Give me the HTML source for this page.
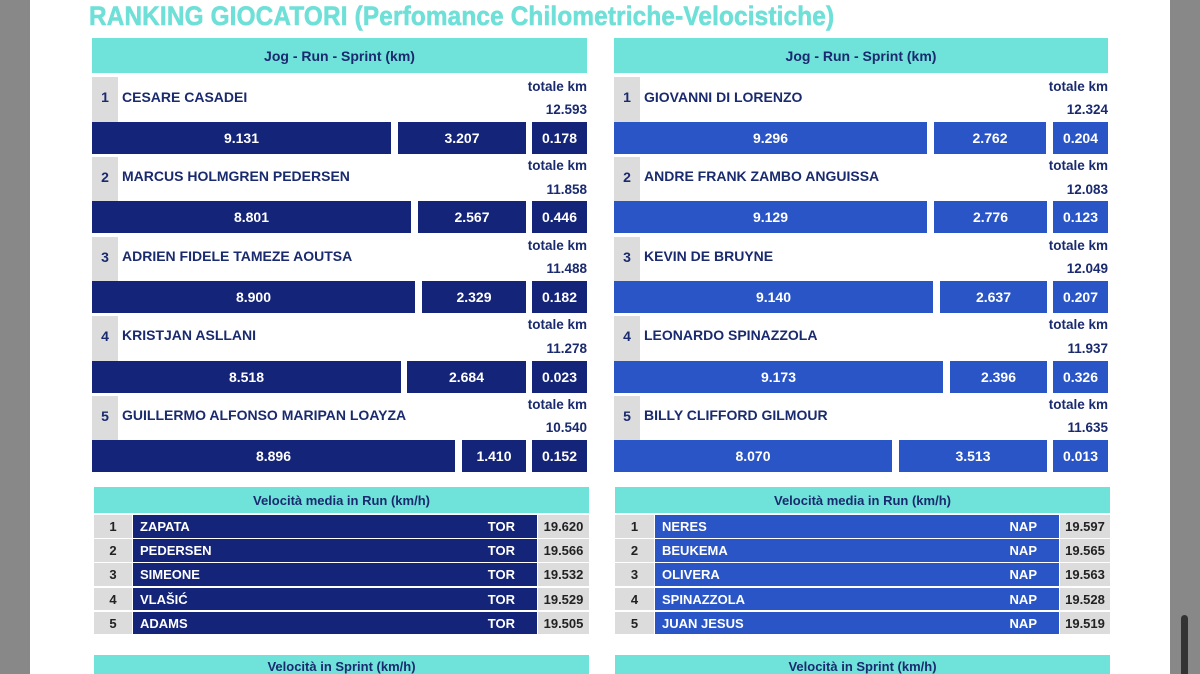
<!DOCTYPE html>
<html><head><meta charset="utf-8"><style>
*{margin:0;padding:0;box-sizing:border-box}
html{width:1200px;height:674px;overflow:hidden}
body{width:1200px;height:674px;background:#888;position:relative;overflow:hidden;font-family:"Liberation Sans",sans-serif;font-weight:bold}
.pg{position:absolute;left:30px;top:0;width:1140px;height:674px;background:#fff}
.a{position:absolute}
.t{left:89px;top:1px;font-size:27px;color:#6fe0d8;white-space:nowrap;transform:scaleX(0.9);transform-origin:left top;letter-spacing:0.2px;-webkit-text-stroke:0.6px #6fe0d8}
.h{background:#6fe2da;color:#1a2a6e;font-size:14px;text-align:center;display:flex;align-items:center;justify-content:center}
.n{background:#dcdcdc;color:#1a2a6e;font-size:14px;text-align:center;padding-top:12px}
.nm{color:#1a2a6e;font-size:14px;white-space:nowrap}
.tk{color:#1a2a6e;font-size:13.5px;text-align:right;white-space:nowrap}
.b{color:#fff;font-size:14px;display:flex;align-items:center;justify-content:center}
.d{background:#142478}.l{background:#2a55c6}
.sn{background:#dcdcdc;color:#222;font-size:13px;display:flex;align-items:center;justify-content:center}
.sb{color:#fff;font-size:13px;display:flex;align-items:center;justify-content:space-between;padding:0 22px 0 7px}
.sv{background:#dcdcdc;color:#222;font-size:13px;display:flex;align-items:center;justify-content:center}
.sh{font-size:13px}
</style></head><body>
<div class="pg"></div>
<div class="a t">RANKING GIOCATORI (Perfomance Chilometriche-Velocistiche)</div>

<div class="a h" style="left:92px;top:38px;width:495px;height:35px">Jog - Run - Sprint (km)</div>
<div class="a h" style="left:614px;top:38px;width:494px;height:35px">Jog - Run - Sprint (km)</div>

<div class="a n" style="left:92px;top:77px;width:26px;height:45px">1</div>
<div class="a nm" style="left:122px;top:89px">CESARE CASADEI</div>
<div class="a tk" style="left:480px;top:79px;width:107px">totale km</div>
<div class="a tk" style="left:480px;top:102px;width:107px">12.593</div>
<div class="a b d" style="left:92px;top:122px;width:299px;height:32px">9.131</div>
<div class="a b d" style="left:398px;top:122px;width:128px;height:32px">3.207</div>
<div class="a b d" style="left:532px;top:122px;width:55px;height:32px">0.178</div>

<div class="a n" style="left:92px;top:157px;width:26px;height:44px">2</div>
<div class="a nm" style="left:122px;top:168px">MARCUS HOLMGREN PEDERSEN</div>
<div class="a tk" style="left:480px;top:158px;width:107px">totale km</div>
<div class="a tk" style="left:480px;top:182px;width:107px">11.858</div>
<div class="a b d" style="left:92px;top:201px;width:319px;height:32px">8.801</div>
<div class="a b d" style="left:418px;top:201px;width:108px;height:32px">2.567</div>
<div class="a b d" style="left:532px;top:201px;width:55px;height:32px">0.446</div>

<div class="a n" style="left:92px;top:237px;width:26px;height:44px">3</div>
<div class="a nm" style="left:122px;top:248px">ADRIEN FIDELE TAMEZE AOUTSA</div>
<div class="a tk" style="left:480px;top:238px;width:107px">totale km</div>
<div class="a tk" style="left:480px;top:261px;width:107px">11.488</div>
<div class="a b d" style="left:92px;top:281px;width:323px;height:32px">8.900</div>
<div class="a b d" style="left:422px;top:281px;width:104px;height:32px">2.329</div>
<div class="a b d" style="left:532px;top:281px;width:55px;height:32px">0.182</div>

<div class="a n" style="left:92px;top:316px;width:26px;height:45px">4</div>
<div class="a nm" style="left:122px;top:327px">KRISTJAN ASLLANI</div>
<div class="a tk" style="left:480px;top:317px;width:107px">totale km</div>
<div class="a tk" style="left:480px;top:341px;width:107px">11.278</div>
<div class="a b d" style="left:92px;top:361px;width:309px;height:32px">8.518</div>
<div class="a b d" style="left:407px;top:361px;width:119px;height:32px">2.684</div>
<div class="a b d" style="left:532px;top:361px;width:55px;height:32px">0.023</div>

<div class="a n" style="left:92px;top:396px;width:26px;height:44px">5</div>
<div class="a nm" style="left:122px;top:407px">GUILLERMO ALFONSO MARIPAN LOAYZA</div>
<div class="a tk" style="left:480px;top:397px;width:107px">totale km</div>
<div class="a tk" style="left:480px;top:420px;width:107px">10.540</div>
<div class="a b d" style="left:92px;top:440px;width:363px;height:32px">8.896</div>
<div class="a b d" style="left:462px;top:440px;width:64px;height:32px">1.410</div>
<div class="a b d" style="left:532px;top:440px;width:55px;height:32px">0.152</div>

<div class="a n" style="left:614px;top:77px;width:26px;height:45px">1</div>
<div class="a nm" style="left:644px;top:89px">GIOVANNI DI LORENZO</div>
<div class="a tk" style="left:1000px;top:79px;width:108px">totale km</div>
<div class="a tk" style="left:1000px;top:102px;width:108px">12.324</div>
<div class="a b l" style="left:614px;top:122px;width:313px;height:32px">9.296</div>
<div class="a b l" style="left:934px;top:122px;width:112px;height:32px">2.762</div>
<div class="a b l" style="left:1053px;top:122px;width:55px;height:32px">0.204</div>

<div class="a n" style="left:614px;top:157px;width:26px;height:44px">2</div>
<div class="a nm" style="left:644px;top:168px">ANDRE FRANK ZAMBO ANGUISSA</div>
<div class="a tk" style="left:1000px;top:158px;width:108px">totale km</div>
<div class="a tk" style="left:1000px;top:182px;width:108px">12.083</div>
<div class="a b l" style="left:614px;top:201px;width:313px;height:32px">9.129</div>
<div class="a b l" style="left:934px;top:201px;width:113px;height:32px">2.776</div>
<div class="a b l" style="left:1053px;top:201px;width:55px;height:32px">0.123</div>

<div class="a n" style="left:614px;top:237px;width:26px;height:44px">3</div>
<div class="a nm" style="left:644px;top:248px">KEVIN DE BRUYNE</div>
<div class="a tk" style="left:1000px;top:238px;width:108px">totale km</div>
<div class="a tk" style="left:1000px;top:261px;width:108px">12.049</div>
<div class="a b l" style="left:614px;top:281px;width:319px;height:32px">9.140</div>
<div class="a b l" style="left:940px;top:281px;width:107px;height:32px">2.637</div>
<div class="a b l" style="left:1053px;top:281px;width:55px;height:32px">0.207</div>

<div class="a n" style="left:614px;top:316px;width:26px;height:45px">4</div>
<div class="a nm" style="left:644px;top:327px">LEONARDO SPINAZZOLA</div>
<div class="a tk" style="left:1000px;top:317px;width:108px">totale km</div>
<div class="a tk" style="left:1000px;top:341px;width:108px">11.937</div>
<div class="a b l" style="left:614px;top:361px;width:329px;height:32px">9.173</div>
<div class="a b l" style="left:950px;top:361px;width:97px;height:32px">2.396</div>
<div class="a b l" style="left:1053px;top:361px;width:55px;height:32px">0.326</div>

<div class="a n" style="left:614px;top:396px;width:26px;height:44px">5</div>
<div class="a nm" style="left:644px;top:407px">BILLY CLIFFORD GILMOUR</div>
<div class="a tk" style="left:1000px;top:397px;width:108px">totale km</div>
<div class="a tk" style="left:1000px;top:420px;width:108px">11.635</div>
<div class="a b l" style="left:614px;top:440px;width:278px;height:32px">8.070</div>
<div class="a b l" style="left:899px;top:440px;width:148px;height:32px">3.513</div>
<div class="a b l" style="left:1053px;top:440px;width:55px;height:32px">0.013</div>

<div class="a h sh" style="left:94px;top:487px;width:495px;height:26px">Velocità media in Run (km/h)</div>
<div class="a h sh" style="left:615px;top:487px;width:495px;height:26px">Velocità media in Run (km/h)</div>

<div class="a sn" style="left:94px;top:515px;width:38px;height:23px">1</div><div class="a sb d" style="left:133px;top:515px;width:404px;height:23px"><span>ZAPATA</span><span>TOR</span></div><div class="a sv" style="left:538px;top:515px;width:51px;height:23px">19.620</div>
<div class="a sn" style="left:94px;top:539px;width:38px;height:23px">2</div><div class="a sb d" style="left:133px;top:539px;width:404px;height:23px"><span>PEDERSEN</span><span>TOR</span></div><div class="a sv" style="left:538px;top:539px;width:51px;height:23px">19.566</div>
<div class="a sn" style="left:94px;top:563px;width:38px;height:23px">3</div><div class="a sb d" style="left:133px;top:563px;width:404px;height:23px"><span>SIMEONE</span><span>TOR</span></div><div class="a sv" style="left:538px;top:563px;width:51px;height:23px">19.532</div>
<div class="a sn" style="left:94px;top:588px;width:38px;height:22px">4</div><div class="a sb d" style="left:133px;top:588px;width:404px;height:22px"><span>VLAŠIĆ</span><span>TOR</span></div><div class="a sv" style="left:538px;top:588px;width:51px;height:22px">19.529</div>
<div class="a sn" style="left:94px;top:612px;width:38px;height:22px">5</div><div class="a sb d" style="left:133px;top:612px;width:404px;height:22px"><span>ADAMS</span><span>TOR</span></div><div class="a sv" style="left:538px;top:612px;width:51px;height:22px">19.505</div>

<div class="a sn" style="left:615px;top:515px;width:39px;height:23px">1</div><div class="a sb l" style="left:655px;top:515px;width:404px;height:23px"><span>NERES</span><span>NAP</span></div><div class="a sv" style="left:1060px;top:515px;width:50px;height:23px">19.597</div>
<div class="a sn" style="left:615px;top:539px;width:39px;height:23px">2</div><div class="a sb l" style="left:655px;top:539px;width:404px;height:23px"><span>BEUKEMA</span><span>NAP</span></div><div class="a sv" style="left:1060px;top:539px;width:50px;height:23px">19.565</div>
<div class="a sn" style="left:615px;top:563px;width:39px;height:23px">3</div><div class="a sb l" style="left:655px;top:563px;width:404px;height:23px"><span>OLIVERA</span><span>NAP</span></div><div class="a sv" style="left:1060px;top:563px;width:50px;height:23px">19.563</div>
<div class="a sn" style="left:615px;top:588px;width:39px;height:22px">4</div><div class="a sb l" style="left:655px;top:588px;width:404px;height:22px"><span>SPINAZZOLA</span><span>NAP</span></div><div class="a sv" style="left:1060px;top:588px;width:50px;height:22px">19.528</div>
<div class="a sn" style="left:615px;top:612px;width:39px;height:22px">5</div><div class="a sb l" style="left:655px;top:612px;width:404px;height:22px"><span>JUAN JESUS</span><span>NAP</span></div><div class="a sv" style="left:1060px;top:612px;width:50px;height:22px">19.519</div>

<div class="a h sh" style="left:94px;top:655px;width:495px;height:19px;align-items:flex-start;padding-top:4px">Velocità in Sprint (km/h)</div>
<div class="a h sh" style="left:615px;top:655px;width:495px;height:19px;align-items:flex-start;padding-top:4px">Velocità in Sprint (km/h)</div>

<div class="a" style="left:1181px;top:615px;width:7px;height:59px;background:#333;border-radius:4px 4px 0 0"></div>
</body></html>
